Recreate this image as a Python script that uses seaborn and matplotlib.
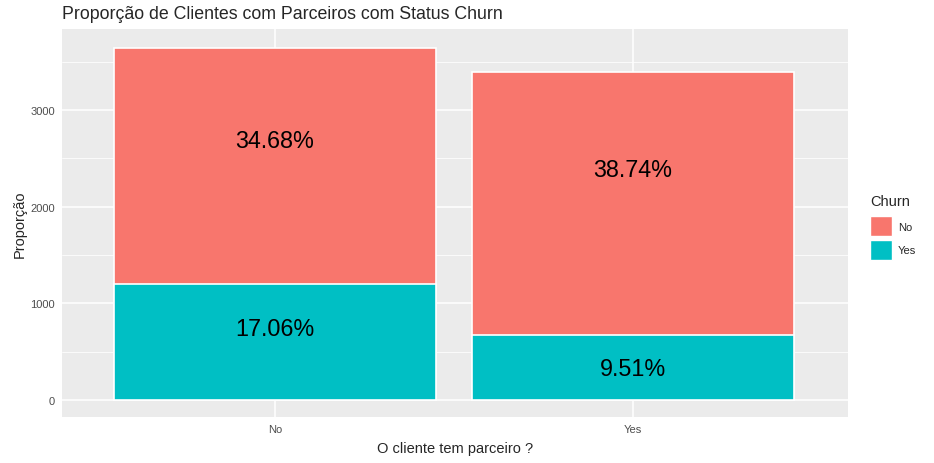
import pandas as pd
import matplotlib.pyplot as plt
import seaborn as sns
from matplotlib.patches import Patch
from matplotlib.ticker import MultipleLocator

# dados (Telco churn, 7032 clientes)
partner = ['No', 'Yes']
churn_no = [2439, 2724]
churn_yes = [1200, 669]
n_total = 7032
# posicao vertical do texto dentro de cada segmento (fracao)
frac_no = [0.61, 0.63]
frac_yes = [0.62, 0.48]

df = pd.DataFrame({'partner': partner, 'no': churn_no, 'yes': churn_yes})
df['total'] = df['no'] + df['yes']

sns.set_style('darkgrid', {'axes.facecolor': '#EBEBEB', 'grid.color': 'white'})
plt.rcParams['font.family'] = ['Liberation Sans', 'DejaVu Sans']

fig, ax = plt.subplots(figsize=(9.34, 4.64), dpi=100)
fig.subplots_adjust(left=62/934, right=848/934, top=1-30/464, bottom=1-418/464)

sns.barplot(data=df, x='partner', y='total', color='#F8766D', saturation=1,
            width=0.9, edgecolor='white', linewidth=1.2, ax=ax, zorder=3)
sns.barplot(data=df, x='partner', y='yes', color='#00BFC4', saturation=1,
            width=0.9, edgecolor='white', linewidth=1.2, ax=ax, zorder=4)

for i in range(len(partner)):
    yn = df['yes'][i] + df['no'][i] * frac_no[i]
    ax.text(i, yn, f"{df['no'][i] / n_total * 100:.2f}%", ha='center', va='center',
            fontsize=16.8, color='black', zorder=5)
    yy = df['yes'][i] * frac_yes[i]
    ax.text(i, yy, f"{df['yes'][i] / n_total * 100:.2f}%", ha='center', va='center',
            fontsize=16.8, color='black', zorder=5)

ax.set_xlim(-0.595, 1.6)
ax.set_ylim(-176, 3838)
ax.yaxis.set_major_locator(MultipleLocator(1000))
ax.yaxis.set_minor_locator(MultipleLocator(500))
ax.grid(which='major', color='white', linewidth=1.1)
ax.grid(which='minor', axis='y', color='white', linewidth=0.55)
ax.set_axisbelow(True)
for s in ax.spines.values():
    s.set_visible(False)
ax.tick_params(axis='both', which='major', length=3, color='#333333',
               labelsize=8, labelcolor='#4D4D4D', pad=2)
ax.tick_params(axis='y', which='minor', length=0)

ax.set_xlabel('O cliente tem parceiro ?', fontsize=10.5, labelpad=5)
ax.set_ylabel('Proporção', fontsize=10.5, labelpad=3)
ax.set_title('Proporção de Clientes com Parceiros com Status Churn', fontsize=12.8,
             loc='left', pad=8)

handles = [Patch(facecolor='#F8766D', edgecolor='white', label='No'),
           Patch(facecolor='#00BFC4', edgecolor='white', label='Yes')]
leg = fig.legend(handles=handles, title='Churn', loc='upper left',
                 bbox_to_anchor=(862/934, 1-187/464), frameon=False,
                 fontsize=8, title_fontsize=10.5, handlelength=2.0,
                 handleheight=2.4, labelspacing=0.3, handletextpad=0.55,
                 borderaxespad=0.3)
leg._legend_box.align = 'left'
leg._legend_box.sep = 6

fig.savefig('out.png', dpi=100)
